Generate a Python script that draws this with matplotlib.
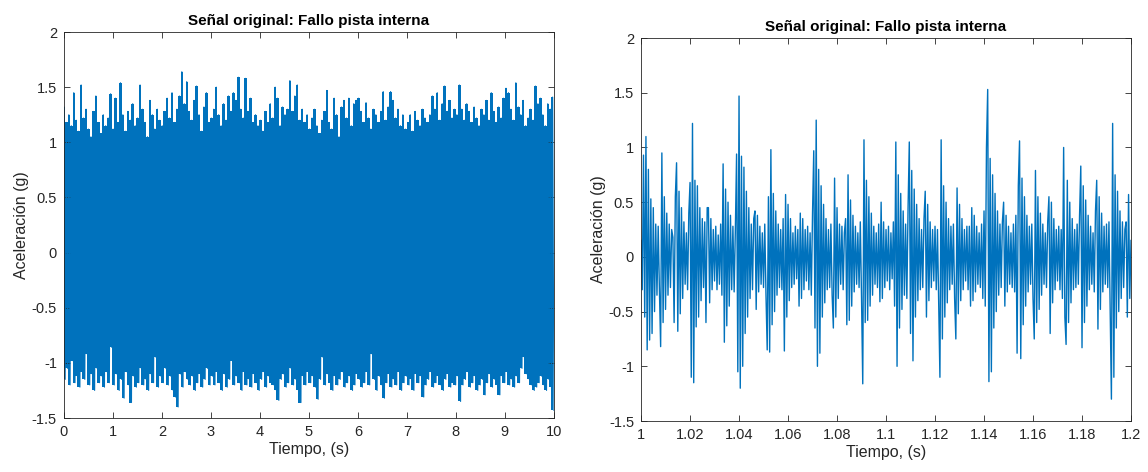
import numpy as np
import matplotlib
matplotlib.use('Agg')
import matplotlib.pyplot as plt
from matplotlib.ticker import FuncFormatter

plt.rcParams['font.family'] = ['Liberation Sans', 'DejaVu Sans']
plt.rcParams['axes.unicode_minus'] = False

# señal completa (0-10 s): envolvente superior e inferior, un valor cada 0.05 s
env_sup = [
    1.32, 1.18, 1.25, 1.15, 1.45, 1.20, 1.10, 1.52, 1.22, 1.30, 1.12, 1.05, 1.28, 1.42, 1.18, 1.08, 1.25, 1.15, 1.22, 1.44,
    1.12, 1.40, 1.18, 1.54, 1.25, 1.10, 1.28, 1.20, 1.35, 1.15, 1.22, 1.52, 1.30, 1.18, 1.05, 1.38, 1.25, 1.12, 1.30, 1.20,
    1.15, 1.28, 1.40, 1.22, 1.45, 1.18, 1.30, 1.42, 1.64, 1.35, 1.55, 1.28, 1.20, 1.38, 1.51, 1.25, 1.10, 1.32, 1.45, 1.18,
    1.22, 1.30, 1.50, 1.25, 1.15, 1.35, 1.20, 1.42, 1.28, 1.45, 1.38, 1.59, 1.30, 1.22, 1.58, 1.28, 1.40, 1.18, 1.25, 1.15,
    1.20, 1.10, 1.28, 1.18, 1.35, 1.22, 1.50, 1.40, 1.15, 1.32, 1.25, 1.30, 1.56, 1.28, 1.42, 1.52, 1.20, 1.30, 1.18, 1.25,
    1.12, 1.22, 1.30, 1.15, 1.08, 1.20, 1.28, 1.47, 1.18, 1.12, 1.40, 1.25, 1.05, 1.32, 1.38, 1.22, 1.40, 1.15, 1.35, 1.38,
    1.40, 1.28, 1.18, 1.36, 1.22, 1.12, 1.30, 1.25, 1.18, 1.28, 1.46, 1.20, 1.32, 1.46, 1.38, 1.22, 1.30, 1.15, 1.25, 1.12,
    1.18, 1.25, 1.10, 1.28, 1.20, 1.15, 1.30, 1.22, 1.18, 1.25, 1.42, 1.30, 1.45, 1.20, 1.35, 1.51, 1.28, 1.38, 1.22, 1.30,
    1.25, 1.52, 1.30, 1.20, 1.35, 1.28, 1.18, 1.32, 1.22, 1.15, 1.30, 1.25, 1.38, 1.20, 1.45, 1.28, 1.18, 1.32, 1.22, 1.40,
    1.49, 1.45, 1.30, 1.20, 1.54, 1.32, 1.25, 1.38, 1.15, 1.22, 1.30, 1.20, 1.51, 1.35, 1.40, 1.25, 1.15, 1.35, 1.30, 1.41,
]
env_inf = [
    -1.15, -1.05, -1.20, -0.98, -1.18, -1.12, -1.22, -1.08, -1.15, -0.92, -1.20, -1.10, -1.25, -1.05, -1.18, -1.12, -1.22, -1.08, -1.18, -0.86,
    -1.20, -1.10, -1.25, -1.15, -1.32, -1.08, -1.20, -1.36, -1.12, -1.22, -1.18, -1.05, -1.20, -1.15, -1.25, -1.10, -1.18, -0.95, -1.22, -1.12,
    -1.18, -1.05, -1.20, -1.12, -1.25, -1.31, -1.40, -1.10, -1.22, -1.08, -1.15, -1.20, -1.12, -1.25, -1.18, -1.10, -1.22, -1.15, -1.05, -1.20,
    -1.12, -1.20, -1.08, -1.18, -1.25, -1.10, -1.22, -1.15, -0.98, -1.20, -1.12, -1.18, -1.25, -1.08, -1.20, -1.15, -1.22, -1.10, -1.18, -1.25,
    -1.15, -1.08, -1.22, -1.12, -1.18, -1.20, -1.25, -1.34, -1.15, -1.10, -1.22, -1.18, -1.05, -1.20, -1.15, -1.25, -1.36, -1.12, -1.20, -1.08,
    -1.18, -1.12, -1.22, -1.33, -1.15, -0.95, -1.20, -1.10, -1.18, -1.25, -1.12, -1.20, -1.15, -1.08, -1.22, -1.18, -1.12, -1.25, -1.20, -1.10,
    -1.15, -1.22, -1.18, -1.08, -1.20, -0.92, -1.15, -1.25, -1.12, -1.20, -1.32, -1.18, -1.10, -1.22, -1.15, -1.20, -1.08, -1.25, -1.18, -1.12,
    -1.20, -1.15, -1.25, -1.10, -1.18, -1.12, -1.31, -1.20, -1.15, -1.08, -1.22, -1.18, -1.12, -1.20, -1.25, -1.15, -1.10, -1.22, -1.18, -1.20,
    -1.12, -1.35, -1.20, -1.15, -1.08, -1.22, -1.18, -1.12, -1.25, -1.20, -1.15, -1.29, -1.18, -1.10, -1.22, -1.15, -1.20, -1.29, -1.12, -1.18,
    -1.08, -1.20, -1.15, -1.22, -1.12, -1.18, -1.05, -0.95, -1.10, -1.15, -1.20, -1.25, -1.22, -1.18, -1.12, -1.20, -1.25, -1.15, -1.22, -1.43,
]

# tramo 1.0-1.2 s, un valor cada 0.5 ms
tramo = [
    0.15, -0.30, 0.93, -0.55, 1.10, -0.85, 0.80, -0.76, 0.53, -0.70, 0.45, -0.50, 0.30, -0.35, 0.28, -0.30, -0.82, 0.95, -0.60, 0.55,
    -0.48, 0.40, -0.35, 0.30, -0.28, 0.25, 0.18, -0.60, 0.55, 0.86, -0.68, 0.60, -0.52, 0.45, -0.38, 0.32, -0.25, 0.22, -0.30, 0.40,
    0.68, -1.10, 1.22, -1.15, 0.70, -0.64, 0.65, -0.55, 0.45, -0.40, 0.35, -0.28, 0.32, -0.60, 0.45, 0.45, -0.42, 0.35, -0.30, 0.25,
    -0.22, 0.28, -0.30, 0.20, -0.25, 0.30, -0.35, 0.85, -0.78, 0.62, -0.63, 0.50, -0.45, 0.38, -0.30, 0.28, -0.32, 0.25, 0.94, -1.05,
    1.47, -1.20, 0.92, -1.00, 0.82, -0.70, 0.60, -0.55, 0.45, -0.38, 0.30, -0.30, 0.35, 0.42, -0.48, 0.38, -0.32, 0.28, -0.25, 0.22,
    -0.28, 0.30, -0.35, -0.85, 0.55, -0.87, 0.98, -0.62, 0.58, -0.50, 0.42, -0.35, 0.30, -0.28, 0.25, -0.30, 0.35, -0.86, 0.57, -0.55,
    0.48, -0.40, 0.35, -0.28, 0.22, -0.25, 0.28, -0.20, 0.25, -0.45, 0.40, -0.38, 0.35, -0.30, 0.25, -0.22, 0.28, -0.30, 0.22, -0.35,
    0.40, 0.97, -0.65, 1.25, -1.00, 0.80, -0.88, 0.65, -0.55, 0.48, -0.42, 0.35, -0.30, 0.25, -0.28, 0.30, -0.35, -0.65, 0.72, -0.55,
    0.45, -0.38, 0.30, -0.25, 0.28, -0.30, 0.22, 0.35, -0.62, 0.75, -0.58, 0.52, -0.45, 0.38, -0.32, 0.28, -0.25, 0.22, -0.28, 0.32,
    -0.38, -1.16, 1.07, -0.60, 0.70, -0.58, 0.55, -0.45, 0.40, -0.35, 0.28, -0.25, 0.22, -0.28, 0.30, -0.41, 0.50, -0.38, 0.32, -0.28,
    0.25, -0.22, 0.28, -0.30, 0.22, -0.20, 0.32, -0.45, 1.05, -1.00, 0.75, -0.65, 0.58, -0.48, 0.42, -0.35, 0.30, -0.38, 0.45, 1.05,
    -0.70, 0.79, -0.95, 0.62, -0.55, 0.48, -0.40, 0.35, -0.30, 0.25, -0.28, 0.35, 0.60, -0.55, 0.48, -0.40, 0.32, -0.28, 0.25, -0.22,
    0.28, -0.30, 0.25, -0.40, -1.10, 1.07, -0.75, 0.65, -0.55, 0.50, -0.42, 0.35, -0.30, 0.28, -0.25, 0.30, -0.38, -0.75, 0.63, -0.52,
    0.48, -0.40, 0.35, -0.30, 0.25, -0.22, 0.28, -0.30, 0.28, -0.45, 0.45, -0.40, 0.38, -0.32, 0.28, -0.25, 0.22, -0.28, 0.30, -0.38,
    0.42, -0.45, 1.00, 1.53, -1.14, 0.90, -1.05, 0.75, -0.65, 0.58, -0.50, 0.42, -0.35, 0.30, -0.28, 0.32, 0.50, -0.45, 0.38, -0.32,
    0.28, -0.25, 0.22, -0.28, 0.30, -0.32, 0.38, -0.88, 0.65, 1.06, -0.93, 0.72, -0.62, 0.55, -0.45, 0.38, -0.32, 0.28, -0.25, 0.30,
    -0.38, -0.75, 0.79, -0.60, 0.55, -0.48, 0.40, -0.35, 0.30, -0.25, 0.22, -0.28, 0.32, 0.55, -0.70, 0.50, -0.42, 0.35, -0.30, 0.25,
    -0.22, 0.28, -0.30, 0.25, -0.38, 1.00, -0.55, -0.80, 0.70, -0.60, 0.50, -0.42, 0.35, -0.30, 0.25, -0.28, 0.30, -0.25, 0.38, 0.83,
    -0.83, 0.65, -0.60, 0.52, -0.45, 0.38, -0.30, 0.28, -0.25, 0.22, -0.32, 0.42, 0.70, -0.66, 0.55, -0.48, 0.40, -0.32, 0.28, -0.25,
    0.30, -0.28, 0.32, -0.48, -1.30, 1.22, -1.10, 0.75, -0.65, 0.60, -0.50, 0.42, -0.38, 0.32, -0.28, 0.25, 0.32, -0.55, 0.57, -0.38,
    0.15,
]

azul = '#0072BD'
gris = '#262626'


def ejes(ax, xlim, xticks):
    ax.set_xlim(xlim)
    ax.set_ylim(-1.5, 2)
    ax.set_xticks(xticks)
    ax.set_yticks(np.arange(-1.5, 2.01, 0.5))
    fmt = FuncFormatter(lambda v, p: '%g' % round(v, 4))
    ax.xaxis.set_major_formatter(fmt)
    ax.yaxis.set_major_formatter(fmt)
    ax.tick_params(direction='in', top=True, right=True, length=4, width=0.6,
                   labelsize=10.5, colors=gris, pad=5)
    for s in ax.spines.values():
        s.set_color(gris)
        s.set_linewidth(0.6)
    ax.set_title('Señal original: Fallo pista interna', fontsize=11, fontweight='bold', pad=5)
    ax.set_xlabel('Tiempo, (s)', fontsize=11.5, color=gris, labelpad=2)
    ax.set_ylabel('Aceleración (g)', fontsize=11.5, color=gris, labelpad=2)


fig = plt.figure(figsize=(11.48, 4.72), dpi=100)

# panel izquierdo: 10 s completos
ax1 = fig.add_axes([0.0557, 0.1144, 0.4268, 0.8178])
y1 = np.empty(2 * len(env_sup))
y1[0::2] = env_sup
y1[1::2] = env_inf
t1 = np.linspace(0, 10, len(y1))
ax1.fill_between(t1[0::2], env_inf, env_sup, step='mid', color=azul, linewidth=0)
ax1.plot(t1, y1, color=azul, linewidth=0.8)
ejes(ax1, (0, 10), np.arange(0, 11, 1))

# panel derecho: detalle 1-1.2 s
ax2 = fig.add_axes([0.5584, 0.1080, 0.4268, 0.8114])
t2 = np.linspace(1, 1.2, len(tramo))
ax2.plot(t2, tramo, color=azul, linewidth=1.0)
ejes(ax2, (1, 1.2), np.linspace(1, 1.2, 11))

fig.savefig('out.png', dpi=100)
